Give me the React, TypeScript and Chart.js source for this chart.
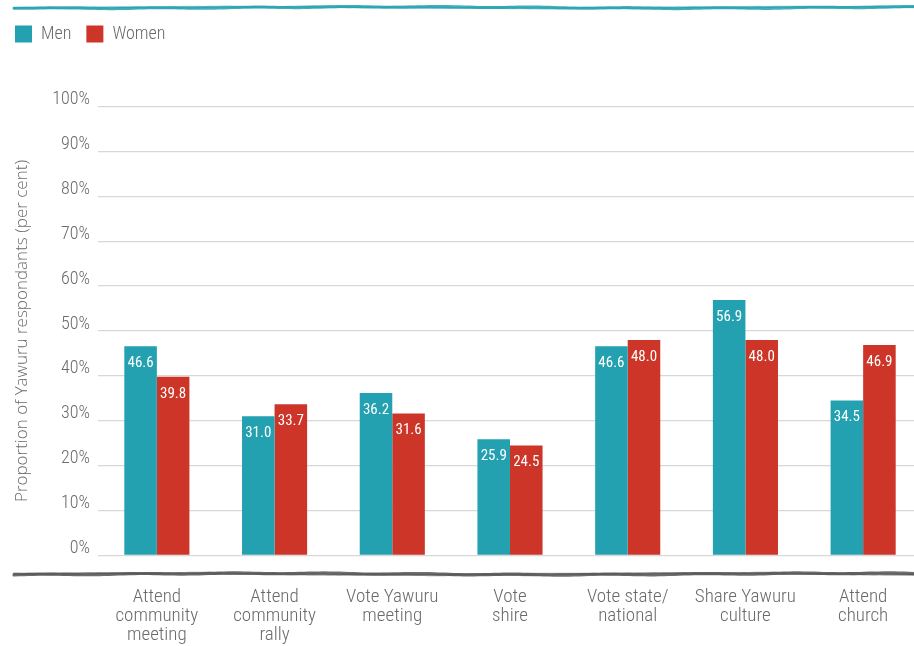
import React, { useEffect, useRef } from 'react';
import { Chart, registerables } from 'chart.js';

Chart.register(...registerables);

const categories: string[][] = [
  ['Attend', 'community', 'meeting'],
  ['Attend', 'community', 'rally'],
  ['Vote Yawuru', 'meeting'],
  ['Vote', 'shire'],
  ['Vote state/', 'national'],
  ['Share Yawuru', 'culture'],
  ['Attend', 'church'],
];
const menValues = [46.6, 31.0, 36.2, 25.9, 46.6, 56.9, 34.5];
const womenValues = [39.8, 33.7, 31.6, 24.5, 48.0, 48.0, 46.9];
const seriesNames = ['Men', 'Women'];
const yAxisTitle = 'Proportion of Yawuru respondants (per cent)';

const TEAL = '#23A1B0';
const RED = '#CC3527';
const TEXT = '#6a6a6a';
const COND = "Roboto, 'DejaVu Sans Condensed', sans-serif";
const HUMANIST = "'Open Sans', 'Noto Sans', sans-serif";
const LIGHT_COND = '300 condensed';

function roughLine(ctx: CanvasRenderingContext2D, x0: number, x1: number, y: number, color: string, width: number, phase: number) {
  ctx.save();
  ctx.strokeStyle = color;
  ctx.lineCap = 'round';
  const alphas = [0.85, 0.55, 0.45];
  for (let pass = 0; pass < 3; pass++) {
    ctx.beginPath();
    ctx.lineWidth = Math.max(0.8, width - pass * 0.9);
    ctx.globalAlpha = alphas[pass];
    for (let x = x0; x <= x1; x += 5) {
      const dy = Math.sin(x * 0.011 + phase + pass) * 0.7 + Math.sin(x * 0.067 + pass * 2.1 + phase) * 0.45;
      if (x === x0) ctx.moveTo(x, y + dy);
      else ctx.lineTo(x, y + dy);
    }
    ctx.stroke();
  }
  ctx.restore();
}

const decorPlugin = {
  id: 'decor',
  beforeLayout(chart: any) {
    const lg = chart.legend;
    if (lg && !lg.__patched) {
      const orig = lg.fit.bind(lg);
      lg.fit = function () {
        orig();
        if (this.options.display) this.height = 96.5;
      };
      lg.__patched = true;
    }
  },
  afterDraw(chart: any) {
    const ctx = chart.ctx as CanvasRenderingContext2D;
    const area = chart.chartArea;
    roughLine(ctx, 14, chart.width, 7.5, TEAL, 3, 0.3);
    roughLine(ctx, 14, chart.width, area.bottom + 18.5, '#555555', 3.2, 1.7);
  },
};

const valueLabelPlugin = {
  id: 'valueLabels',
  afterDatasetsDraw(chart: any) {
    const ctx = chart.ctx as CanvasRenderingContext2D;
    ctx.save();
    ctx.fillStyle = '#ffffff';
    ctx.font = `condensed 15px ${COND}`;
    ctx.textAlign = 'center';
    ctx.textBaseline = 'middle';
    chart.data.datasets.forEach((ds: any, di: number) => {
      const meta = chart.getDatasetMeta(di);
      meta.data.forEach((el: any, i: number) => {
        const v = ds.data[i] as number;
        ctx.fillText(v.toFixed(1), el.x, el.y + 17);
      });
    });
    ctx.restore();
  },
};

export default function App() {
  const canvasRef = useRef<HTMLCanvasElement | null>(null);

  useEffect(() => {
    if (!canvasRef.current) return;
    const chart = new Chart(canvasRef.current, {
      type: 'bar',
      data: {
        labels: categories,
        datasets: [
          { label: seriesNames[0], data: menValues, backgroundColor: TEAL, borderWidth: 0 },
          { label: seriesNames[1], data: womenValues, backgroundColor: RED, borderWidth: 0 },
        ],
      },
      options: {
        responsive: false,
        animation: false,
        devicePixelRatio: 1,
        layout: { padding: { top: 10, right: 2, left: 0, bottom: 0 } },
        datasets: { bar: { categoryPercentage: 0.553, barPercentage: 1 } },
        plugins: {
          legend: {
            position: 'top',
            align: 'start',
            labels: {
              boxWidth: 17,
              boxHeight: 17,
              padding: 15,
              color: TEXT,
              font: { family: COND, size: 18, weight: LIGHT_COND },
            },
          },
          tooltip: { enabled: false },
        },
        scales: {
          x: {
            grid: { display: false },
            border: { display: false },
            ticks: {
              color: TEXT,
              font: { family: COND, size: 19, weight: LIGHT_COND, lineHeight: 1.0 },
              padding: 24,
              maxRotation: 0,
              autoSkip: false,
            },
            afterFit: (s: any) => { s.height = 90.5; },
          },
          y: {
            min: 0,
            max: 100,
            border: { display: false },
            grid: { color: '#d8d8d8', lineWidth: 1.3, drawTicks: false },
            ticks: {
              stepSize: 10,
              color: TEXT,
              padding: 8,
              labelOffset: -7,
              font: { family: COND, size: 18, weight: LIGHT_COND },
              callback: (v: any) => `${v}%`,
            },
            title: {
              display: true,
              text: yAxisTitle,
              color: TEXT,
              font: { family: HUMANIST, size: 17, weight: '300' },
              padding: { top: 12, bottom: 0 },
            },
            afterFit: (s: any) => { s.width = 98; },
          },
        },
      },
      plugins: [decorPlugin, valueLabelPlugin],
    } as any);
    return () => chart.destroy();
  }, []);

  return (
    <div style={{ position: 'fixed', left: 0, top: 0, width: 914, height: 646, overflow: 'hidden', background: '#fff' }}>
      <canvas ref={canvasRef} width={924} height={646} style={{ display: 'block', width: 924, height: 646 }} />
    </div>
  );
}
